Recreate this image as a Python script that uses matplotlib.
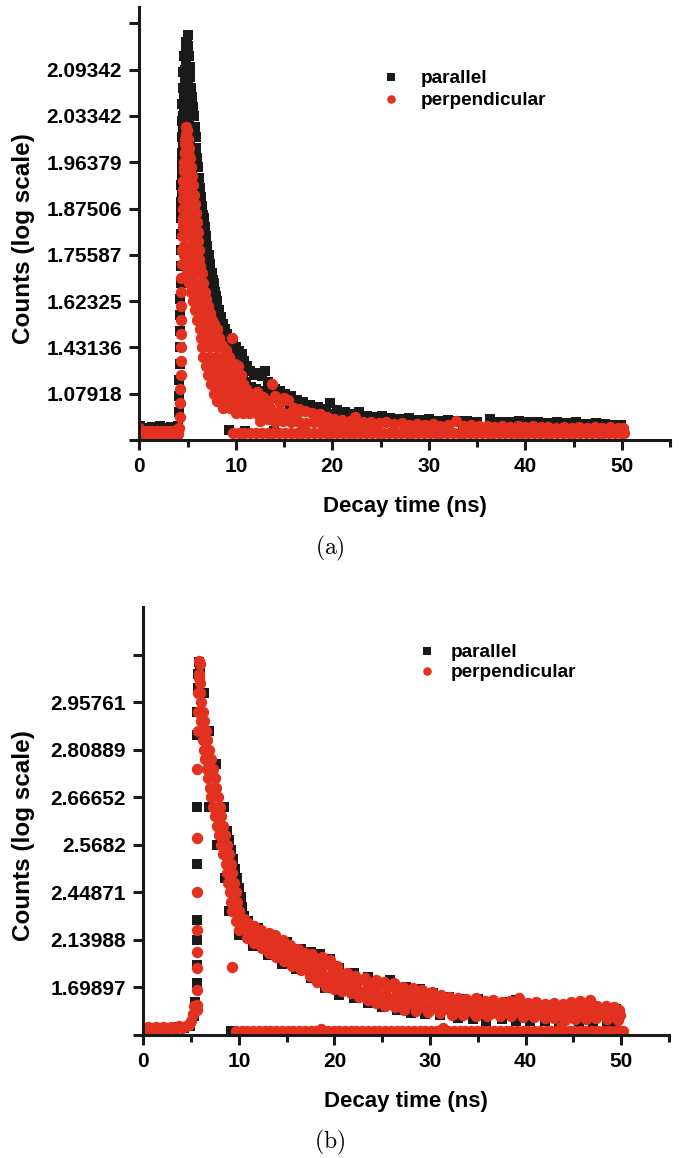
import numpy as np
import matplotlib
matplotlib.use("Agg")
import matplotlib.pyplot as plt
from matplotlib.ticker import MultipleLocator, FixedLocator, FixedFormatter

plt.rcParams['font.family'] = ['Liberation Sans', 'DejaVu Sans']
plt.rcParams['font.weight'] = 'bold'
plt.rcParams['mathtext.fontset'] = 'cm'

BLACK = '#1a1a1a'
RED = '#e2321f'

# y positions are tick slots on the (relabelled) count axis
yticklabels_a = ['', '1.07918', '1.43136', '1.62325', '1.75587', '1.87506',
                 '1.96379', '2.03342', '2.09342', '']
yticklabels_b = ['', '1.69897', '2.13988', '2.44871', '2.5682', '2.66652',
                 '2.80889', '2.95761', '']
xticks = [0, 10, 20, 30, 40, 50]

# ---------- panel (a) : parallel ----------
a_par_pre = [(0.1, 0.3), (0.5, 0.27), (0.9, 0.25), (1.3, 0.28), (1.7, 0.24), (2.1, 0.3),
             (2.5, 0.27), (2.9, 0.26), (3.3, 0.29), (3.7, 0.27), (4.0, 0.31)]
a_par_rise = [(4.15, 0.6), (4.15, 0.95), (4.15, 1.3), (4.2, 1.65), (4.2, 2.0), (4.2, 2.35),
              (4.25, 2.7), (4.25, 3.05), (4.3, 3.4), (4.3, 3.75), (4.35, 4.1), (4.35, 4.45),
              (4.35, 4.8), (4.35, 5.15), (4.35, 5.5), (4.4, 5.85), (4.4, 6.2), (4.4, 6.55),
              (4.45, 6.9), (4.45, 7.25), (4.5, 7.6), (4.55, 7.95), (4.65, 8.3), (4.8, 8.6)]
a_par_core = [(4.9, 8.6), (4.85, 8.4), (4.8, 8.2), (4.75, 8.0), (4.7, 7.8), (5.05, 7.8),
              (4.65, 7.6), (5.1, 7.6), (4.6, 7.4), (5.1, 7.4), (4.6, 7.2), (5.15, 7.2),
              (4.55, 7.0), (5.1, 7.0), (4.5, 6.8), (5.15, 6.8), (4.5, 6.6), (5.2, 6.6),
              (4.5, 6.4), (5.25, 6.4), (4.45, 6.2), (5.3, 6.2), (4.45, 6.0), (5.35, 6.0),
              (4.45, 5.8), (5.45, 5.8), (4.4, 5.6), (5.55, 5.6), (4.4, 5.4), (5.65, 5.4),
              (4.4, 5.2), (5.75, 5.2), (4.35, 5.0), (5.85, 5.0), (5.95, 4.8), (6.05, 4.6),
              (6.2, 4.4), (6.3, 4.2), (6.45, 4.0), (6.6, 3.8), (6.75, 3.6), (6.9, 3.4),
              (7.1, 3.2), (7.3, 3.0), (7.5, 2.8), (7.7, 2.6), (7.95, 2.4), (8.3, 2.2),
              (8.7, 2.0), (9.2, 1.8), (6.7, 4.8), (6.8, 4.6), (6.95, 4.4), (7.05, 4.2),
              (7.2, 4.0), (7.35, 3.8), (7.5, 3.6), (7.7, 3.4), (7.85, 3.2), (8.05, 3.0),
              (8.25, 2.8), (8.45, 2.6), (8.75, 2.4), (9.2, 2.2), (9.6, 2.0), (10.0, 1.8)]
a_par_edge = [(5.0, 8.75), (5.05, 8.5), (5.15, 8.3), (5.2, 8.05), (5.3, 7.85), (5.4, 7.6),
              (5.5, 7.4), (5.6, 7.2), (5.7, 7.0), (5.75, 6.75), (5.85, 6.55), (5.9, 6.3),
              (6.0, 6.1), (6.1, 5.9), (6.2, 5.65), (6.3, 5.45), (6.4, 5.25), (6.5, 5.05),
              (6.65, 4.85), (6.75, 4.6), (6.9, 4.4), (7.0, 4.2), (7.15, 4.0), (7.3, 3.8),
              (7.45, 3.6), (7.6, 3.45), (7.75, 3.25), (7.95, 3.1), (8.1, 2.95), (8.3, 2.8),
              (8.5, 2.65), (8.7, 2.5), (8.9, 2.4), (9.1, 2.3), (9.4, 2.2), (9.7, 2.1),
              (10.0, 2.0), (10.3, 1.92), (10.6, 1.85), (10.9, 1.7), (11.2, 1.6), (11.5, 1.5),
              (11.9, 1.4), (12.3, 1.45), (12.7, 1.38), (13.0, 1.5), (13.3, 1.25), (13.7, 1.15),
              (14.1, 1.1), (14.6, 1.05), (15.1, 1.0), (15.7, 0.95), (16.3, 0.86), (17.0, 0.82),
              (17.7, 0.76), (18.5, 0.72), (19.3, 0.68), (19.8, 0.8), (20.5, 0.65), (21.3, 0.6),
              (22.0, 0.56), (22.8, 0.6), (23.6, 0.52), (24.4, 0.5), (25.2, 0.52), (26.0, 0.48),
              (27.0, 0.46), (28.0, 0.47), (29.0, 0.44), (30.0, 0.45), (31.0, 0.42), (32.0, 0.44),
              (33.0, 0.41), (34.0, 0.42), (35.0, 0.4), (36.3, 0.46), (37.3, 0.4), (38.3, 0.39),
              (39.3, 0.41), (40.3, 0.38), (41.3, 0.38), (42.3, 0.37), (43.3, 0.38), (44.3, 0.36),
              (45.3, 0.4), (46.3, 0.35), (47.3, 0.36), (48.3, 0.34), (49.2, 0.33), (49.9, 0.32)]
a_par_fill = [(9.9, 1.55), (10.3, 1.45), (10.7, 1.35), (11.1, 1.25), (11.6, 1.15), (12.1, 1.1),
              (12.7, 1.05), (13.3, 0.95), (14.0, 0.9), (14.8, 0.82), (15.6, 0.75), (16.5, 0.7),
              (17.5, 0.65), (18.5, 0.6), (19.5, 0.56), (20.5, 0.52), (21.8, 0.48), (23.0, 0.45),
              (24.5, 0.42), (26.0, 0.4), (27.5, 0.38), (29.0, 0.36), (30.5, 0.36), (32.0, 0.34),
              (33.5, 0.35), (35.0, 0.33), (36.5, 0.34), (38.0, 0.32), (39.5, 0.33), (41.0, 0.31),
              (42.5, 0.32), (44.0, 0.3), (45.5, 0.31), (47.0, 0.3), (48.5, 0.29), (49.8, 0.28)]
a_par_base = [(9.3, 0.22), (11.0, 0.2), (14.0, 0.2), (17.0, 0.2), (20.0, 0.2), (24.0, 0.2),
              (28.0, 0.2), (32.0, 0.2), (36.0, 0.2), (40.0, 0.2), (44.0, 0.2), (48.0, 0.2),
              (50.1, 0.2)]

# ---------- panel (a) : perpendicular ----------
a_perp_pre = [(0.0, 0.12), (0.5, 0.12), (1.0, 0.12), (1.5, 0.12), (2.0, 0.12), (2.5, 0.12),
              (3.0, 0.12), (3.5, 0.12), (4.0, 0.12), (0.0, 0.27), (0.3, 0.2), (0.8, 0.2),
              (1.3, 0.2), (1.8, 0.2), (2.3, 0.2), (2.8, 0.2), (3.3, 0.2), (3.8, 0.22), (4.1, 0.25)]
a_perp_rise = [(4.25, 0.5), (4.25, 0.8), (4.25, 1.1), (4.3, 1.4), (4.3, 1.7), (4.3, 2.0),
               (4.3, 2.3), (4.3, 2.6), (4.35, 2.9), (4.35, 3.2), (4.35, 3.5), (4.4, 3.8),
               (4.4, 4.1), (4.45, 4.4), (4.5, 4.7), (4.55, 5.0), (4.6, 5.3), (4.6, 5.6),
               (4.65, 5.9), (4.7, 6.2), (4.75, 6.5), (4.8, 6.76)]
a_perp_core = [(4.8, 6.6), (4.75, 6.4), (4.95, 6.4), (4.7, 6.2), (5.0, 6.2), (4.6, 6.0),
               (5.05, 6.0), (4.6, 5.8), (5.15, 5.8), (4.55, 5.6), (5.2, 5.6), (4.55, 5.4),
               (5.3, 5.4), (4.55, 5.2), (5.0, 5.2), (5.4, 5.2), (4.55, 5.0), (5.05, 5.0),
               (5.5, 5.0), (4.55, 4.8), (5.1, 4.8), (5.6, 4.8), (4.55, 4.6), (5.15, 4.6),
               (5.7, 4.6), (4.6, 4.4), (5.2, 4.4), (5.8, 4.4), (4.6, 4.2), (5.25, 4.2),
               (5.85, 4.2), (4.65, 4.0), (5.3, 4.0), (5.9, 4.0), (4.8, 3.8), (5.4, 3.8),
               (6.05, 3.8), (4.95, 3.6), (5.6, 3.6), (6.25, 3.6), (5.15, 3.4), (5.8, 3.4),
               (6.5, 3.4), (5.35, 3.2), (6.0, 3.2), (6.7, 3.2), (5.55, 3.0), (6.2, 3.0),
               (6.85, 3.0), (5.75, 2.8), (6.4, 2.8), (7.05, 2.8), (6.0, 2.6), (6.65, 2.6),
               (7.35, 2.6), (6.25, 2.4), (6.95, 2.4), (7.7, 2.4), (6.35, 2.2), (7.05, 2.2),
               (7.7, 2.2), (8.15, 2.2), (6.5, 2.0), (7.2, 2.0), (7.9, 2.0), (8.6, 2.0),
               (6.65, 1.8), (7.35, 1.8), (8.05, 1.8), (8.75, 1.8), (9.2, 1.8), (6.9, 1.6),
               (7.6, 1.6), (8.3, 1.6), (9.0, 1.6), (9.7, 1.6), (7.15, 1.4), (7.85, 1.4),
               (8.55, 1.4), (9.25, 1.4), (9.95, 1.4), (10.4, 1.4), (7.45, 1.2), (8.15, 1.2),
               (8.85, 1.2), (9.55, 1.2), (10.25, 1.2), (7.75, 1.0), (8.45, 1.0), (9.15, 1.0),
               (9.85, 1.0), (10.55, 1.0), (11.2, 1.0), (8.1, 0.85), (8.8, 0.85), (9.5, 0.85),
               (10.2, 0.85), (10.9, 0.85), (11.6, 0.85), (12.2, 0.85), (8.7, 0.7), (9.4, 0.7),
               (10.1, 0.7), (10.8, 0.7), (11.5, 0.7), (12.2, 0.7), (12.9, 0.7), (13.5, 0.7),
               (10.0, 0.58), (10.7, 0.58), (11.4, 0.58), (12.1, 0.58), (12.8, 0.58), (13.5, 0.58),
               (14.2, 0.58), (14.9, 0.58), (15.6, 0.58), (16.3, 0.58)]
a_perp_edge = [(4.9, 6.7), (5.0, 6.5), (5.1, 6.3), (5.3, 6.1), (5.4, 5.9), (5.5, 5.7),
               (5.6, 5.5), (5.7, 5.3), (5.8, 5.1), (5.9, 4.9), (6.0, 4.7), (6.05, 4.5),
               (6.1, 4.3), (6.15, 4.1), (6.2, 3.9), (6.3, 3.75), (6.5, 3.6), (6.65, 3.4),
               (6.8, 3.2), (6.95, 3.05), (7.1, 2.9), (7.3, 2.75), (7.5, 2.6), (7.7, 2.5),
               (8.0, 2.4), (8.3, 2.2), (8.6, 2.05), (9.0, 1.95), (9.3, 1.8), (9.6, 2.2),
               (9.9, 1.65), (10.2, 1.6), (10.5, 1.4), (10.7, 1.2), (11.1, 1.1), (11.6, 1.0),
               (12.2, 1.04), (12.8, 0.92), (13.3, 0.85), (13.7, 1.2), (14.1, 0.95), (14.6, 0.8),
               (15.0, 0.9), (15.4, 0.86), (16.0, 0.7), (16.6, 0.68), (17.2, 0.62), (17.9, 0.58),
               (18.7, 0.56), (19.4, 0.5), (20.2, 0.46), (21.0, 0.44), (21.8, 0.42), (22.4, 0.5),
               (23.2, 0.4), (24.0, 0.4), (24.8, 0.37), (25.6, 0.38), (26.4, 0.35), (27.2, 0.36),
               (28.0, 0.33), (28.8, 0.35), (29.6, 0.32), (30.4, 0.34), (31.2, 0.31), (32.0, 0.33),
               (32.8, 0.42), (33.6, 0.31), (34.4, 0.32), (35.2, 0.3), (36.0, 0.31), (36.8, 0.29),
               (37.6, 0.31), (38.4, 0.29), (39.2, 0.3), (40.0, 0.28), (40.8, 0.3), (41.6, 0.28),
               (42.4, 0.29), (43.2, 0.27), (44.0, 0.28), (44.8, 0.27), (45.6, 0.28), (46.4, 0.26),
               (47.2, 0.28), (48.0, 0.26), (48.8, 0.29), (49.6, 0.26), (50.1, 0.25)]
a_perp_low = [(12.5, 0.42), (13.3, 0.45), (14.1, 0.4), (14.9, 0.42), (15.7, 0.38), (16.5, 0.4),
              (17.3, 0.36), (18.1, 0.38), (18.9, 0.35), (19.7, 0.36), (20.5, 0.33), (21.3, 0.34),
              (22.1, 0.32), (22.9, 0.33), (23.7, 0.3), (24.5, 0.32)]

# wrapped channels (flat row just above the time axis), shared times
base_t = [9.7, 10.3, 10.9, 11.5, 12.1, 12.7, 13.3, 13.9, 14.5, 15.1, 15.7, 16.3, 16.9,
          17.5, 18.1, 18.7, 19.3, 19.9, 20.5, 21.1, 21.7, 22.3, 22.9, 23.5, 24.1, 24.7,
          25.3, 25.9, 26.5, 27.1, 27.7, 28.3, 28.9, 29.5, 30.1, 30.7, 31.3, 31.9, 32.5,
          33.1, 33.7, 34.3, 34.9, 35.5, 36.1, 36.7, 37.3, 37.9, 38.5, 39.1, 39.7, 40.3,
          40.9, 41.5, 42.1, 42.7, 43.3, 43.9, 44.5, 45.1, 45.7, 46.3, 46.9, 47.5, 48.1,
          48.7, 49.3, 49.9, 50.2]
a_perp_base_level = 0.15
b_perp_base_level = 0.08

# ---------- panel (b) : parallel ----------
b_par_pre = [(0.1, 0.14), (0.7, 0.13), (1.3, 0.14), (1.9, 0.13), (2.5, 0.15), (3.1, 0.14),
             (3.7, 0.16), (4.3, 0.15), (4.9, 0.2), (5.3, 0.4), (5.45, 0.7)]
b_par_col = [(5.6, 1.1), (5.6, 1.47), (5.6, 2.0), (5.6, 2.42), (5.6, 3.6), (5.6, 4.8),
             (5.6, 6.3), (5.65, 6.8), (5.7, 7.3), (5.75, 7.6), (5.8, 7.85)]
b_par_upper = [(5.9, 7.7), (6.3, 7.2), (6.9, 6.4), (7.6, 5.7), (8.4, 4.8), (8.8, 4.3),
               (9.0, 4.1), (9.2, 3.9), (9.4, 3.7), (9.6, 3.5), (9.8, 3.3), (10.0, 3.1),
               (10.2, 2.9), (10.3, 2.7), (10.5, 2.5), (11.0, 2.4), (12.0, 2.25), (13.5, 2.1),
               (15.0, 1.95), (16.5, 1.8), (17.5, 1.75), (18.5, 1.7), (19.5, 1.6), (20.5, 1.4),
               (22.0, 1.3), (23.5, 1.22), (25.8, 1.16), (27.5, 1.02), (29.0, 0.97), (30.3, 0.88),
               (32.0, 0.8), (33.5, 0.76), (35.0, 0.76), (36.5, 0.7), (38.0, 0.7), (39.0, 0.74),
               (40.5, 0.66), (42.0, 0.64), (43.5, 0.62), (45.0, 0.62), (46.5, 0.62), (48.0, 0.56),
               (49.5, 0.55)]
b_par_lower = [(6.9, 4.8), (7.7, 4.0), (8.5, 3.3), (9.0, 2.6), (10.0, 2.1), (11.5, 1.88),
               (13.0, 1.68), (14.5, 1.5), (16.0, 1.38), (17.5, 1.2), (19.0, 0.98), (20.5, 0.85),
               (22.0, 0.78), (23.5, 0.68), (25.0, 0.58), (26.5, 0.52), (28.0, 0.46), (29.5, 0.44),
               (31.0, 0.42), (32.9, 0.35), (34.5, 0.34), (35.9, 0.28), (37.5, 0.34), (39.0, 0.3),
               (40.5, 0.3), (42.0, 0.3), (43.5, 0.28), (45.6, 0.21), (47.0, 0.28), (48.5, 0.26),
               (49.5, 0.25)]
b_par_base = [(9.2, 0.08), (12.0, 0.06), (20.0, 0.06), (30.0, 0.06), (40.0, 0.06), (50.0, 0.06)]

# ---------- panel (b) : perpendicular ----------
b_perp_pre = [(0.1, 0.12), (0.5, 0.17), (0.9, 0.12), (1.3, 0.16), (1.7, 0.12), (2.1, 0.16),
              (2.5, 0.12), (2.9, 0.17), (3.3, 0.13), (3.7, 0.19), (4.1, 0.14), (4.5, 0.18),
              (4.8, 0.22), (5.0, 0.3), (5.2, 0.45), (5.35, 0.62)]
b_perp_col = [(5.6, 0.53), (5.6, 0.63), (5.6, 0.95), (5.62, 1.41), (5.62, 1.75), (5.62, 2.2),
              (5.65, 3.0), (5.65, 4.15), (5.65, 5.6), (5.7, 6.4), (5.7, 6.8), (5.75, 7.2),
              (5.8, 7.5), (5.85, 7.86)]
b_perp_steep = [(5.9, 7.8), (5.85, 7.6), (5.9, 7.4), (5.95, 7.2), (6.05, 7.0), (6.05, 6.8),
                (6.25, 6.8), (6.05, 6.6), (6.4, 6.6), (6.05, 6.4), (6.55, 6.4), (6.2, 6.2),
                (6.7, 6.2), (6.35, 6.0), (6.9, 6.0), (6.5, 5.8), (7.1, 5.8), (6.65, 5.6),
                (7.3, 5.6), (6.8, 5.4), (7.5, 5.4), (6.95, 5.2), (7.65, 5.2), (7.1, 5.0),
                (7.85, 5.0), (7.3, 4.8), (8.0, 4.8), (7.5, 4.6), (8.15, 4.6), (7.7, 4.4),
                (8.35, 4.4), (7.9, 4.2), (8.55, 4.2), (8.15, 4.0), (8.75, 4.0), (8.35, 3.8),
                (8.95, 3.8), (8.6, 3.6), (9.15, 3.6), (8.75, 3.4), (9.3, 3.4), (8.9, 3.2),
                (9.5, 3.2), (9.05, 3.0), (9.65, 3.0), (9.15, 2.8), (9.85, 2.8), (9.3, 2.6),
                (10.0, 2.6), (9.65, 2.4), (10.25, 2.4)]
b_perp_upper = [(10.5, 2.45), (11.0, 2.35), (11.6, 2.3), (12.3, 2.2), (13.1, 2.14),
                (13.8, 2.1), (14.6, 2.0), (15.4, 1.9), (16.2, 1.8), (16.9, 1.72), (17.7, 1.7),
                (18.7, 1.65), (19.5, 1.58), (20.3, 1.45), (21.3, 1.3), (22.2, 1.25), (23.2, 1.2),
                (24.3, 1.16), (25.2, 1.12), (26.2, 1.09), (27.2, 1.0), (28.2, 0.98), (29.2, 0.95),
                (30.2, 0.9), (31.1, 0.85), (32.0, 0.8), (32.9, 0.77), (33.8, 0.75), (34.8, 0.78),
                (35.7, 0.72), (36.6, 0.74), (37.5, 0.7), (38.4, 0.72), (39.3, 0.77), (40.2, 0.68),
                (41.1, 0.7), (42.0, 0.66), (43.0, 0.67), (43.9, 0.65), (44.8, 0.7), (45.7, 0.72),
                (46.7, 0.74), (47.5, 0.62), (48.4, 0.6), (49.2, 0.58), (49.8, 0.53)]
b_perp_um = [(10.7, 2.35), (11.4, 2.22), (12.1, 2.13), (12.9, 2.06), (13.7, 1.98), (14.5, 1.9),
             (15.3, 1.8), (16.1, 1.72), (17.0, 1.62), (17.9, 1.56), (18.8, 1.5), (19.7, 1.4),
             (20.6, 1.3), (21.5, 1.2), (22.5, 1.13), (23.5, 1.08), (24.5, 1.03), (25.5, 0.98),
             (26.5, 0.93), (27.5, 0.88), (28.5, 0.84), (29.5, 0.82), (30.5, 0.78), (31.5, 0.74),
             (32.5, 0.7), (33.5, 0.67), (34.5, 0.66), (35.5, 0.64), (36.5, 0.64), (37.5, 0.62),
             (38.5, 0.62), (39.5, 0.66), (40.5, 0.6), (41.5, 0.62), (42.5, 0.58), (43.5, 0.6),
             (44.5, 0.6), (45.5, 0.63), (46.5, 0.66), (47.5, 0.56), (48.5, 0.54), (49.5, 0.5)]
b_perp_mid = [(10.9, 2.2), (11.7, 2.1), (12.5, 2.0), (13.3, 1.92), (14.2, 1.82), (15.0, 1.72),
              (15.9, 1.62), (16.8, 1.55), (17.7, 1.45), (18.6, 1.35), (19.5, 1.25), (20.4, 1.15),
              (21.3, 1.1), (22.3, 1.02), (23.3, 0.95), (24.3, 0.9), (25.3, 0.85), (26.3, 0.8),
              (27.3, 0.75), (28.3, 0.72), (29.3, 0.7), (30.3, 0.66), (31.3, 0.63), (32.3, 0.6),
              (33.3, 0.58), (34.3, 0.57), (35.3, 0.56), (36.3, 0.55), (37.3, 0.55), (38.3, 0.53),
              (39.3, 0.56), (40.3, 0.52), (41.3, 0.54), (42.3, 0.5), (43.3, 0.52), (44.3, 0.49),
              (45.3, 0.52), (46.3, 0.56), (47.3, 0.5), (48.3, 0.48), (49.3, 0.45), (49.9, 0.42)]
b_perp_ml = [(10.5, 2.25), (11.2, 2.12), (12.0, 2.0), (12.8, 1.9), (13.6, 1.8), (14.4, 1.7),
             (15.2, 1.6), (16.1, 1.48), (17.0, 1.38), (17.9, 1.3), (18.8, 1.22), (19.7, 1.12),
             (20.6, 1.03), (21.5, 0.98), (22.5, 0.9), (23.5, 0.85), (24.5, 0.78), (25.5, 0.72),
             (26.5, 0.68), (27.5, 0.64), (28.5, 0.61), (29.5, 0.59), (30.5, 0.56), (31.5, 0.54),
             (32.5, 0.51), (33.5, 0.5), (34.5, 0.48), (35.5, 0.47), (36.5, 0.47), (37.5, 0.47),
             (38.5, 0.46), (39.5, 0.46), (40.5, 0.44), (41.5, 0.45), (42.5, 0.43), (43.5, 0.43),
             (44.5, 0.41), (45.5, 0.43), (46.5, 0.44), (47.5, 0.42), (48.5, 0.41), (49.5, 0.38)]
b_perp_lower = [(10.0, 2.2), (10.8, 2.05), (11.6, 1.93), (12.4, 1.82), (13.2, 1.72),
                (13.9, 1.65), (14.7, 1.55), (15.6, 1.45), (16.5, 1.37), (17.4, 1.25), (18.2, 1.12),
                (19.1, 1.02), (19.9, 0.97), (20.8, 0.92), (21.7, 0.88), (22.6, 0.8), (23.5, 0.74),
                (24.3, 0.67), (25.3, 0.62), (26.3, 0.58), (27.3, 0.53), (28.5, 0.5), (29.8, 0.48),
                (31.0, 0.46), (32.3, 0.43), (33.5, 0.42), (34.8, 0.39), (36.0, 0.4), (37.3, 0.41),
                (38.5, 0.39), (39.7, 0.38), (40.9, 0.37), (42.0, 0.36), (43.0, 0.35), (44.1, 0.32),
                (45.2, 0.34), (46.3, 0.33), (47.4, 0.36), (48.5, 0.34), (49.7, 0.32)]
b_perp_odd = [(9.3, 1.42), (43.7, 0.16), (18.6, 0.12), (31.4, 0.14)]


def stack(*parts):
    return np.vstack([np.asarray(p, dtype=float) for p in parts])


a_par = stack(a_par_pre, a_par_rise, a_par_core, a_par_fill, a_par_edge, a_par_base)
a_perp = stack(a_perp_pre, a_perp_rise, a_perp_core, a_perp_edge, a_perp_low,
               [(t, a_perp_base_level) for t in base_t])
b_par = stack(b_par_pre, b_par_col, b_par_upper, b_par_lower, b_par_base)
b_perp = stack(b_perp_pre, b_perp_col, b_perp_steep, b_perp_lower, b_perp_ml, b_perp_mid,
               b_perp_um, b_perp_upper, b_perp_odd,
               [(t, b_perp_base_level) for t in base_t])

fig = plt.figure(figsize=(6.86, 11.58), dpi=100)
ax_a = fig.add_axes([0.2031, 0.6200, 0.7736, 0.3739])
ax_b = fig.add_axes([0.2089, 0.1062, 0.7663, 0.3696])

panels = [
    (ax_a, a_par, a_perp, yticklabels_a, 9.35, -0.1965, 0.466, (0.4566, 0.8095), 1.05, 0.25, '(a)', 548),
    (ax_b, b_par, b_perp, yticklabels_b, 9.0, -0.206, 0.467, (0.5218, 0.870), 0.73, 0.15, '(b)', 1142),
]

for ax, par, perp, ylabs, ytop, ylx, yly, legpos, tpad, lspace, cap, capy in panels:
    ax.plot(par[:, 0], par[:, 1], 's', color=BLACK, ms=7.0, mew=0, label='parallel')
    ax.plot(perp[:, 0], perp[:, 1], 'o', color=RED, ms=8.2, mew=0, label='perpendicular')

    ax.set_xlim(0, 55)
    ax.set_ylim(0, ytop)
    ax.xaxis.set_major_locator(FixedLocator(xticks))
    ax.xaxis.set_minor_locator(MultipleLocator(5))
    ax.yaxis.set_major_locator(FixedLocator(list(range(len(ylabs)))))
    ax.yaxis.set_major_formatter(FixedFormatter(ylabs))

    for s in ['top', 'right']:
        ax.spines[s].set_visible(False)
    for s in ['left', 'bottom']:
        ax.spines[s].set_linewidth(2.2)
        ax.spines[s].set_color(BLACK)
    ax.tick_params(which='major', direction='out', length=7.5, width=2.2, color=BLACK)
    ax.tick_params(which='minor', direction='out', length=5, width=2.2, color=BLACK)
    ax.tick_params(axis='x', labelsize=15, pad=5)
    ax.tick_params(axis='y', labelsize=15, pad=5)

    ax.set_xlabel('Decay time (ns)', fontsize=16, fontweight='bold')
    ax.set_ylabel('Counts (log scale)', fontsize=17.5, fontweight='bold')
    ax.xaxis.set_label_coords(0.5, -0.13)
    ax.yaxis.set_label_coords(ylx, yly)

    ax.legend(loc='center left', bbox_to_anchor=legpos, frameon=False, fontsize=13.7,
              handlelength=1.0, handletextpad=tpad, borderpad=0, borderaxespad=0,
              labelspacing=lspace, markerscale=0.75)

    fig.text(330 / 686, 1 - capy / 1158, r'$\mathrm{' + cap + '}$', ha='center', va='center',
             fontsize=17)

fig.savefig('out.png', dpi=100)
